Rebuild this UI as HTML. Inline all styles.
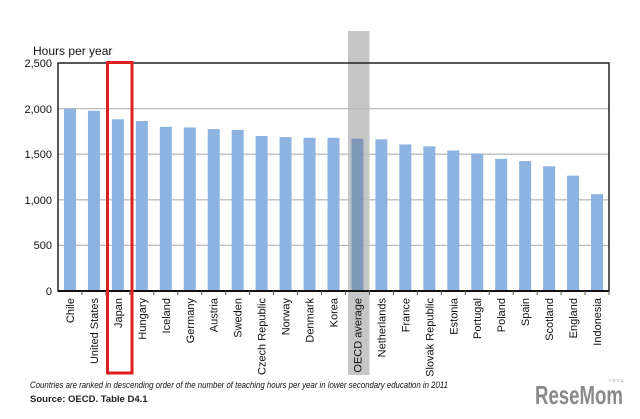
<!DOCTYPE html>
<html><head><meta charset="utf-8"><style>
html,body{margin:0;padding:0;background:#fff;}
svg{display:block;}
</style></head><body>
<svg width="640" height="419" viewBox="0 0 640 419" xmlns="http://www.w3.org/2000/svg" font-family="Liberation Sans, Arial, sans-serif">
<rect width="640" height="419" fill="#fff"/>
<rect x="348" y="31" width="21.5" height="344" fill="#c6c6c6"/>
<g stroke="#bdbdbd" stroke-width="1.3">
<line x1="58" y1="108.6" x2="609" y2="108.6"/>
<line x1="58" y1="154.2" x2="609" y2="154.2"/>
<line x1="58" y1="199.8" x2="609" y2="199.8"/>
<line x1="58" y1="245.4" x2="609" y2="245.4"/>
</g>
<g id="bars"></g>
<rect x="58" y="63" width="551" height="228" fill="none" stroke="#222" stroke-width="1.5"/>
<line x1="58" y1="291" x2="609" y2="291" stroke="#111" stroke-width="2"/>
<g id="ticks" stroke="#555" stroke-width="1"></g>
<g font-size="11" fill="#111" text-anchor="end">
<text x="52" y="67">2,500</text>
<text x="52" y="113">2,000</text>
<text x="52" y="158">1,500</text>
<text x="52" y="204">1,000</text>
<text x="52" y="249">500</text>
<text x="52" y="295">0</text>
</g>
<text x="33" y="55" font-size="12" fill="#111">Hours per year</text>
<g id="labels" font-size="11" fill="#111"></g>
<rect x="107.5" y="62.5" width="24.5" height="310.5" fill="none" stroke="#e02020" stroke-width="3"/>
<text x="30" y="388" font-size="9.5" font-style="italic" fill="#111" textLength="418" lengthAdjust="spacingAndGlyphs">Countries are ranked in descending order of the number of teaching hours per year in lower secondary education in 2011</text>
<text x="30" y="402" font-size="9.5" font-weight="bold" fill="#222">Source: OECD. Table D4.1</text>
<text x="535" y="404" font-size="26" font-weight="bold" fill="#8a8a8a" textLength="88" lengthAdjust="spacingAndGlyphs">ReseMom</text>
<text x="608" y="382" font-size="4" fill="#999">リセマム</text>
</svg>
<script>
var names=["Chile","United States","Japan","Hungary","Iceland","Germany","Austria","Sweden","Czech Republic","Norway","Denmark","Korea","OECD average","Netherlands","France","Slovak Republic","Estonia","Portugal","Poland","Spain","Scotland","England","Indonesia"];
var vals=[2000,1976,1883,1864,1800,1793,1776,1767,1700,1688,1680,1680,1671,1663,1607,1586,1540,1508,1449,1425,1368,1265,1062];
var ns="http://www.w3.org/2000/svg";
var step=551/23, x0=58, y0=291, s=228/2500;
var b=document.getElementById("bars"),l=document.getElementById("labels"),t=document.getElementById("ticks");
for(var i=0;i<23;i++){
 var cx=x0+step*(i+0.5);
 var h=vals[i]*s;
 var r=document.createElementNS(ns,"rect");
 r.setAttribute("x",cx-6);r.setAttribute("y",y0-h);r.setAttribute("width",12);r.setAttribute("height",h);
 r.setAttribute("fill",i==12?"#7f98b8":"#8eb3e0");b.appendChild(r);
 var tx=document.createElementNS(ns,"text");
 tx.setAttribute("transform","translate("+(cx+4)+",298) rotate(-90)");
 tx.setAttribute("text-anchor","end");tx.textContent=names[i];l.appendChild(tx);
 var tk=document.createElementNS(ns,"line");var xx=x0+step*(i+1);
 tk.setAttribute("x1",xx);tk.setAttribute("x2",xx);tk.setAttribute("y1",291);tk.setAttribute("y2",295);t.appendChild(tk);
}
</script>
</body></html>
